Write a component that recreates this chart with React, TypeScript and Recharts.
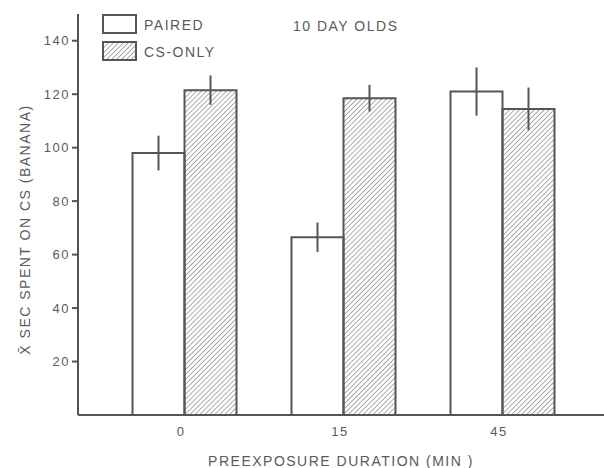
import { Bar, BarChart, ErrorBar, XAxis, YAxis } from "recharts";

const durations = ["0", "15", "45"];
const pairedMeans = [98, 66.5, 121];
const pairedErrors = [6.5, 5.5, 9];
const csOnlyMeans = [121.5, 118.5, 114.5];
const csOnlyErrors = [5.5, 5, 8];
const yTicks = [20, 40, 60, 80, 100, 120, 140];

const data = durations.map((d, i) => ({
  duration: d,
  paired: pairedMeans[i],
  pairedErr: pairedErrors[i],
  csOnly: csOnlyMeans[i],
  csOnlyErr: csOnlyErrors[i],
}));

const INK = "#555";
const TEXT = "#5a5a5a";
const FONT = "'Liberation Sans', Arial, sans-serif";

function LegendBox() {
  return (
    <svg width={130} height={50} style={{ display: "block" }}>
      <defs>
        <pattern id="hatch-legend" width={3.5} height={3.5} patternUnits="userSpaceOnUse" patternTransform="rotate(45)">
          <line x1={0} y1={0} x2={0} y2={3.5} stroke="#666" strokeWidth={1.1} />
        </pattern>
      </defs>
      <rect x={1} y={1} width={33} height={18} fill="#fff" stroke={INK} strokeWidth={2} />
      <rect x={1} y={28} width={33} height={18} fill="url(#hatch-legend)" stroke={INK} strokeWidth={2} />
      <text x={42} y={16} fontFamily={FONT} fontSize={14} letterSpacing={1.5} fill={TEXT}>PAIRED</text>
      <text x={42} y={43} fontFamily={FONT} fontSize={14} letterSpacing={1.5} fill={TEXT}>CS-ONLY</text>
    </svg>
  );
}

export default function App() {
  return (
    <div style={{ position: "absolute", left: 0, top: 0, width: 604, height: 468, background: "#fff" }}>
      <BarChart
        width={604}
        height={468}
        data={data}
        margin={{ top: 14, right: 0, left: 0, bottom: 0 }}
        barSize={52}
        barGap={0}
      >
        <defs>
          <pattern id="hatch" width={3.5} height={3.5} patternUnits="userSpaceOnUse" patternTransform="rotate(45)">
            <line x1={0} y1={0} x2={0} y2={3.5} stroke="#666" strokeWidth={1.1} />
          </pattern>
        </defs>
        <XAxis
          dataKey="duration"
          height={53}
          padding={{ left: 26.5, right: 22.5 }}
          tickLine={false}
          axisLine={{ stroke: INK, strokeWidth: 2 }}
          tick={{ fill: TEXT, fontSize: 13, fontFamily: FONT, letterSpacing: 1.5, dx: -3 }}
          tickMargin={6}
          label={{
            value: "PREEXPOSURE DURATION (MIN )",
            position: "insideBottom",
            offset: 0,
            dy: -2,
            fill: TEXT,
            fontSize: 14,
            fontFamily: FONT,
            letterSpacing: 1.5,
          }}
        />
        <YAxis
          width={78}
          domain={[0, 150]}
          ticks={yTicks}
          allowDataOverflow
          tickSize={6}
          tickLine={{ stroke: INK, strokeWidth: 2 }}
          axisLine={{ stroke: INK, strokeWidth: 2 }}
          tick={{ fill: TEXT, fontSize: 13, fontFamily: FONT, letterSpacing: 1.5 }}
          tickMargin={2}
          label={{
            value: "X\u0304 SEC SPENT ON CS (BANANA)",
            angle: -90,
            position: "insideLeft",
            offset: 0,
            dx: 25,
            dy: 15,
            fill: TEXT,
            fontSize: 14,
            fontFamily: FONT,
            letterSpacing: 1.5,
            style: { textAnchor: "middle" },
          }}
        />
        <Bar dataKey="paired" fill="#fff" stroke={INK} strokeWidth={2} isAnimationActive={false}>
          <ErrorBar dataKey="pairedErr" width={0} stroke={INK} strokeWidth={2} isAnimationActive={false} />
        </Bar>
        <Bar dataKey="csOnly" fill="url(#hatch)" stroke={INK} strokeWidth={2} isAnimationActive={false}>
          <ErrorBar dataKey="csOnlyErr" width={0} stroke={INK} strokeWidth={2} isAnimationActive={false} />
        </Bar>
      </BarChart>
      <div style={{ position: "absolute", left: 102, top: 14 }}>
        <LegendBox />
      </div>
      <div
        style={{
          position: "absolute",
          left: 293,
          top: 18,
          fontFamily: FONT,
          fontSize: 14,
          letterSpacing: 1.5,
          color: TEXT,
          whiteSpace: "nowrap",
        }}
      >
        10 DAY OLDS
      </div>
    </div>
  );
}
